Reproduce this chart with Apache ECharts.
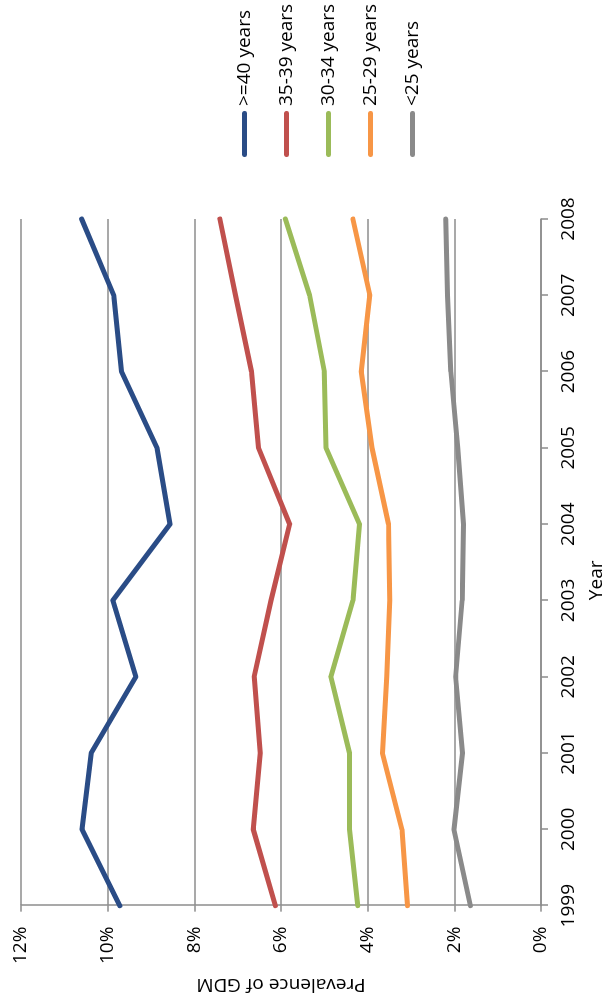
<!DOCTYPE html>
<html>
<head>
<meta charset="utf-8">
<script src="https://cdn.jsdelivr.net/npm/echarts@6/dist/echarts.min.js"></script>
<style>
  html, body { margin: 0; padding: 0; background: #ffffff; overflow: hidden; }
  #page { position: relative; width: 614px; height: 1002px; overflow: hidden; }
  /* The chart is laid out landscape and turned a quarter turn counter-clockwise */
  #chart {
    position: absolute; left: 0; top: 0;
    width: 1002px; height: 614px;
    transform-origin: 0 0;
    transform: translateY(1002px) rotate(-90deg);
  }
</style>
</head>
<body>
<div id="page"><div id="chart"></div></div>
<script>
// Prevalence of gestational diabetes (%) by maternal age group, 1999-2008
const years = ['1999', '2000', '2001', '2002', '2003', '2004', '2005', '2006', '2007', '2008'];
const seriesNames = ['>=40 years', '35-39 years', '30-34 years', '25-29 years', '<25 years'];
const age40plus = [9.72, 10.59, 10.38, 9.35, 9.88, 8.56, 8.86, 9.68, 9.86, 10.60];
const age35to39 = [6.13, 6.64, 6.48, 6.62, 6.23, 5.80, 6.52, 6.68, 7.05, 7.41];
const age30to34 = [4.23, 4.42, 4.42, 4.85, 4.34, 4.19, 4.96, 5.00, 5.34, 5.90];
const age25to29 = [3.08, 3.21, 3.66, 3.56, 3.49, 3.52, 3.90, 4.15, 3.95, 4.34];
const ageUnder25 = [1.63, 2.01, 1.81, 1.97, 1.82, 1.79, 1.92, 2.08, 2.16, 2.20];
const valueTicks = { min: 0, max: 12, step: 2 };

const colors = ['#2a4c86', '#c0504d', '#9bbb59', '#f79646', '#8a8a8a'];
const values = [age40plus, age35to39, age30to34, age25to29, ageUnder25];
const font = '"Open Sans", "DejaVu Sans", sans-serif';
const gray = '#8c8c8c';

const chart = echarts.init(document.getElementById('chart'), null, { width: 1002, height: 614 });

chart.setOption({
  animation: false,
  backgroundColor: '#ffffff',
  color: colors,
  textStyle: { fontFamily: font },
  grid: { left: 92, right: 219, top: 21, bottom: 73, containLabel: false },
  legend: {
    orient: 'vertical',
    left: 840,
    top: 230,
    itemWidth: 46,
    itemHeight: 5,
    itemGap: 23,
    icon: 'path://M2.5,0H43.5A2.5,2.5,0,0,1,43.5,5H2.5A2.5,2.5,0,0,1,2.5,0Z',
    textStyle: { fontFamily: font, fontSize: 19, color: '#000', lineHeight: 19 },
    data: seriesNames
  },
  xAxis: {
    type: 'category',
    data: years,
    boundaryGap: false,
    name: 'Year',
    nameLocation: 'middle',
    nameGap: 46,
    nameTextStyle: { fontFamily: font, fontSize: 19, color: '#000', padding: [0, 36, 0, 0] },
    axisLine: { show: true, lineStyle: { color: gray, width: 1.5 } },
    axisTick: { show: true, inside: false, length: 7, lineStyle: { color: gray, width: 1.5 } },
    axisLabel: { margin: 18, fontFamily: font, fontSize: 19, color: '#000' },
    splitLine: { show: false }
  },
  yAxis: {
    type: 'value',
    min: valueTicks.min,
    max: valueTicks.max,
    interval: valueTicks.step,
    name: 'Prevalence of GDM',
    nameLocation: 'middle',
    nameRotate: 90,
    nameGap: 64,
    nameTextStyle: { fontFamily: font, fontSize: 19, color: '#000' },
    axisLine: { show: true, lineStyle: { color: gray, width: 1.5 } },
    axisTick: { show: true, inside: false, length: 6, lineStyle: { color: gray, width: 1.5 } },
    axisLabel: { margin: 21, fontFamily: font, fontSize: 19, color: '#000', formatter: '{value}%' },
    splitLine: { show: true, lineStyle: { color: gray, width: 1.5 } }
  },
  series: seriesNames.map((name, i) => ({
    name: name,
    type: 'line',
    data: values[i],
    symbol: 'none',
    smooth: false,
    lineStyle: { width: 5, color: colors[i], cap: 'round', join: 'round' },
    itemStyle: { color: colors[i] },
    z: 10 - i
  }))
});
</script>
</body>
</html>
